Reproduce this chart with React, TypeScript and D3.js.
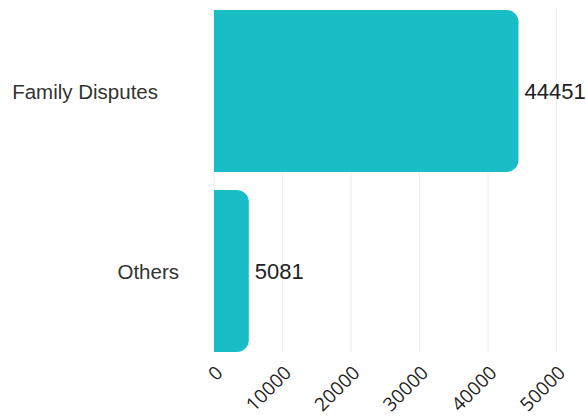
import React from "react";
import * as d3 from "d3";

const categories = ["Family Disputes", "Others"];
const values = [44451, 5081];
const xTicks = [0, 10000, 20000, 30000, 40000, 50000];
const labelEnds = [158, 179];

const W = 586;
const H = 420;
const BAR = "#19bdc5";

function barPath(x0: number, x1: number, y0: number, h: number, r: number) {
  const rr = Math.min(r, (x1 - x0), h / 2);
  const p = d3.path();
  p.moveTo(x0, y0);
  p.lineTo(x1 - rr, y0);
  p.arcTo(x1, y0, x1, y0 + rr, rr);
  p.lineTo(x1, y0 + h - rr);
  p.arcTo(x1, y0 + h, x1 - rr, y0 + h, rr);
  p.lineTo(x0, y0 + h);
  p.closePath();
  return p.toString();
}

export default function App() {
  const x = d3.scaleLinear().domain([0, 50000]).range([214, 556.5]);
  const y = d3
    .scaleBand<string>()
    .domain(categories)
    .range([1, 361])
    .paddingInner(0.1)
    .paddingOuter(0.05);
  const bw = y.bandwidth();
  const gridTop = y(categories[0])!;
  const gridBottom = y(categories[categories.length - 1])! + bw;

  return (
    <svg
      width={W}
      height={H}
      style={{ position: "fixed", left: 0, top: 0, background: "#fff" }}
    >
      {xTicks.map((t) => (
        <line
          key={"g" + t}
          x1={x(t)}
          x2={x(t)}
          y1={gridTop}
          y2={gridBottom}
          stroke="#ececec"
          strokeWidth={1}
        />
      ))}
      {categories.map((c, i) => {
        const y0 = y(c)!;
        return (
          <g key={c}>
            <path d={barPath(x(0), x(values[i]), y0, bw, 12)} fill={BAR} />
            <text
              x={x(values[i]) + 6}
              y={y0 + bw / 2}
              dy="0.37em"
              fontFamily="'Liberation Sans', Arial, sans-serif"
              fontSize={22}
              fill="#222"
            >
              {values[i]}
            </text>
            <text
              x={labelEnds[i]}
              y={y0 + bw / 2}
              dy="0.37em"
              textAnchor="end"
              fontFamily="'Liberation Sans', Arial, sans-serif"
              fontSize={20.5}
              fill="#333"
            >
              {c}
            </text>
          </g>
        );
      })}
      {xTicks.map((t) => (
        <text
          key={"t" + t}
          transform={`translate(${x(t) + 10},${374}) rotate(-45)`}
          textAnchor="end"
          fontFamily="'Open Sans', 'Noto Sans', sans-serif"
          fontSize={19}
          fill="#222"
        >
          {t}
        </text>
      ))}
    </svg>
  );
}
